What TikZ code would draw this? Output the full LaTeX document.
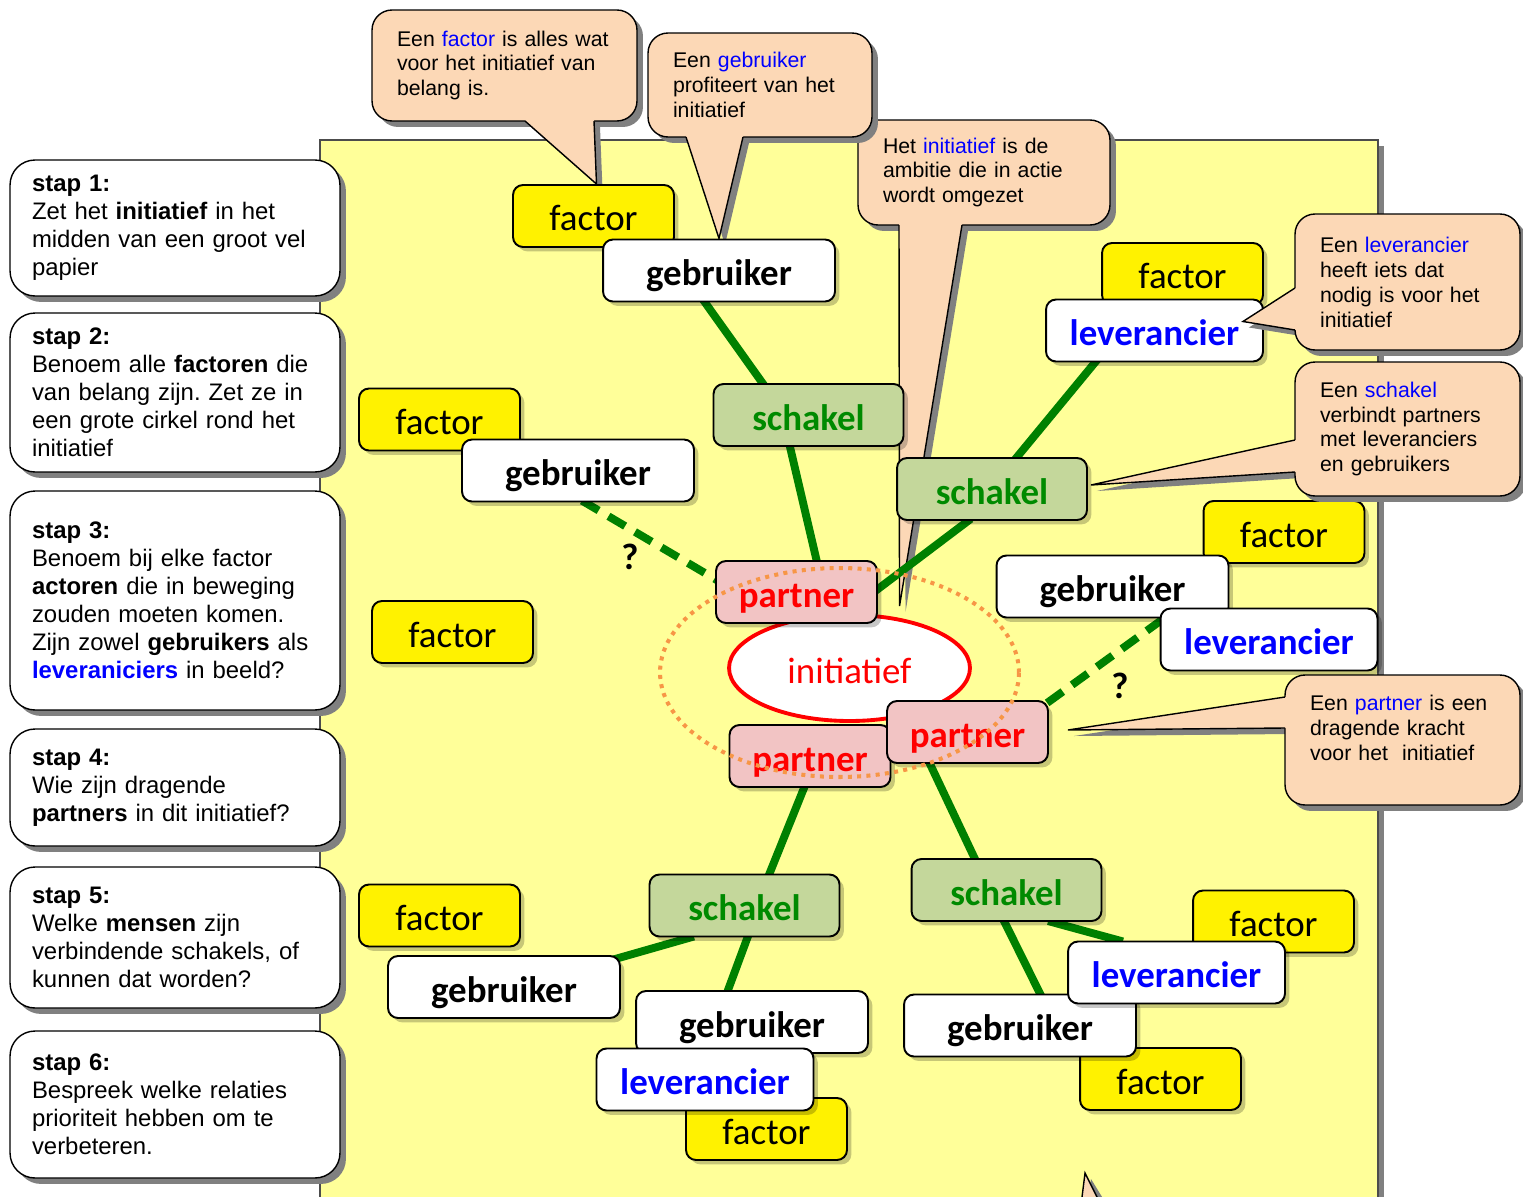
\documentclass[tikz,border=0pt]{standalone}
\usepackage{fontspec}
\setmainfont{Liberation Sans}
\newfontfamily\calib{Carlito}
\usetikzlibrary{calc,shapes.geometric,shadows}
\pgfdeclarelayer{back}
\pgfdeclarelayer{mid}
\pgfsetlayers{back,mid,main}
\definecolor{bgyellow}{HTML}{FFFF99}
\definecolor{peach}{HTML}{FCD8B6}
\definecolor{linkgreen}{HTML}{008000}
\definecolor{schfill}{HTML}{C4D79B}
\definecolor{schtext}{HTML}{008A00}
\definecolor{pfill}{HTML}{F2C4C4}
\definecolor{ringorange}{HTML}{F79646}
\definecolor{shadowgray}{HTML}{808080}
\frenchspacing
\newcommand{\tailshadow}[3]{\fill[shadowgray] ($(#1)+(6,6)$) -- ($(#3)+(6,6)$) -- ($(#2)+(6,6)$) -- cycle;}
\newcommand{\notetail}[4]{%
  \fill[peach] ($(#1)+#4$) -- (#1) -- (#3) -- (#2) -- ($(#2)+#4$) -- cycle;
  \draw[line width=0.8pt] (#1) -- (#3) -- (#2);}
\begin{document}
\begin{tikzpicture}[x=0.02cm,y=-0.02cm]
  \tikzset{ box/.style={draw,line width=1.1pt,rounded corners=0.2cm,minimum height=1.24cm,inner sep=0pt,
      text height=0.6cm,text depth=0pt,font=\calib\fontsize{21}{25}\selectfont,
      drop shadow={shadow xshift=2.5pt,shadow yshift=-2.5pt,fill=black,opacity=0.22}},
    fac/.style={box,fill=yellow,minimum width=3.22cm},
    geb/.style={box,fill=white,minimum width=4.64cm,font=\calib\bfseries\fontsize{21}{25}\selectfont},
    lev/.style={geb,minimum width=4.34cm,text=blue},
    sch/.style={geb,fill=schfill,minimum width=3.8cm,text=schtext},
    prt/.style={geb,fill=pfill,minimum width=3.22cm,text=red},
    link/.style={linkgreen,line width=4.5pt,shorten <=-2pt,shorten >=-2pt},
    maybe/.style={link,dash pattern=on 11pt off 6.5pt},
    qmark/.style={font=\calib\bfseries\fontsize{21}{25}\selectfont},
    note/.style={draw,line width=0.8pt,fill=peach,rounded corners=0.4cm,inner xsep=0.5cm,align=left,
      font=\fontsize{12.1}{14.2}\selectfont,
      drop shadow={shadow xshift=3.4pt,shadow yshift=-3.4pt,fill=shadowgray,opacity=1}},
    stapbox/.style={draw,line width=0.8pt,fill=white,rounded corners=0.5cm,inner xsep=0.44cm,
      text width=5.72cm,align=left,font=\fontsize{13.6}{15.9}\selectfont,
      drop shadow={shadow xshift=3.4pt,shadow yshift=-3.4pt,fill=shadowgray,opacity=1}},
  }
  \useasboundingbox (0,0) rectangle (1523,1196);

  \begin{pgfonlayer}{back}
    \fill[shadowgray] (326,146) rectangle (1384,1215);
    \draw[fill=bgyellow,draw=gray!60!black,line width=0.6pt] (320,140) rectangle (1378,1215);
  \end{pgfonlayer}

  \node[fac] (fT) at (593.5,216) {factor};
  \node[fac] (fL) at (439.5,419.5) {factor};
  \node[fac] (fM) at (452.5,632) {factor};
  \node[fac] (fR1) at (1182.5,274) {factor};
  \node[fac] (fR2) at (1284,532) {factor};
  \node[fac] (fBL1) at (439.5,915.5) {factor};
  \node[fac] (fBL2) at (766.5,1129) {factor};
  \node[fac] (fBR1) at (1273.5,921.5) {factor};
  \node[fac] (fBR2) at (1160.5,1079) {factor};

  \node[geb] (gT) at (719,270.5) {gebruiker};
  \node[geb] (gL) at (578,470.5) {gebruiker};
  \node[geb] (gR2) at (1112.5,586.5) {gebruiker};
  \node[geb] (gBL1) at (504,987) {gebruiker};
  \node[geb] (gBL2) at (752,1022) {gebruiker};
  \node[geb] (gBR) at (1020,1025.5) {gebruiker};

  \node[lev] (lR1) at (1154.5,330.5) {leverancier};
  \node[lev] (lR2) at (1269,639.5) {leverancier};
  \node[lev] (lBL) at (705,1079.5) {leverancier};
  \node[lev] (lBR) at (1176.5,972.5) {leverancier};

  \node[sch] (sT) at (808.5,415) {schakel};
  \node[sch] (sR) at (992,489) {schakel};
  \node[sch] (sBL) at (744.5,905.5) {schakel};
  \node[sch] (sBR) at (1006.5,890) {schakel};

  \node[ellipse,draw=red,line width=2.2pt,fill=white,minimum width=4.82cm,minimum height=2.12cm,inner sep=0pt,
    text height=0.6cm,text depth=0pt,text=red,font=\calib\fontsize{21}{25}\selectfont] (init) at (849.5,668) {initiatief};

  \node[prt] (pT) at (796.5,592) {partner};
  \node[prt] (pBL) at (810,756) {partner};
  \node[prt] (pBR) at (967.5,732) {partner};

  \node[ellipse,draw=ringorange,line width=2.3pt,dash pattern=on 2.3pt off 3pt,minimum width=7.18cm,
    minimum height=4.18cm] (ring) at (839.5,672.5) {};

  \node[qmark] (q1) at (630,557) {?};
  \node[qmark] (q2) at (1120,686) {?};

  \begin{pgfonlayer}{mid}
    \coordinate (n3a) at (899,225);
    \coordinate (n3b) at (962,225);
    \coordinate (n3t) at ($(init.north)+(50,-7)$);
    \tailshadow{n3a}{n3b}{n3t}
    \node[note,text width=4.04cm,minimum height=2.1cm] (n3) at (984,172.5)
      {Het {\color{blue}initiatief} is de\\ambitie die in actie\\wordt omgezet};
    \notetail{n3a}{n3b}{n3t}{(0,-6)}

    \coordinate (n1a) at (525,121);
    \coordinate (n1b) at (594,121);
    \coordinate (n1t) at ($(fT.north)+(3,0)$);
    \tailshadow{n1a}{n1b}{n1t}
    \node[note,text width=4.3cm,minimum height=2.22cm] (n1) at (504.5,65.5)
      {Een {\color{blue}factor} is alles wat\\voor het initiatief van\\belang is.};
    \notetail{n1a}{n1b}{n1t}{(0,-6)}

    \coordinate (n2a) at (686,137);
    \coordinate (n2b) at (743,137);
    \coordinate (n2t) at (gT.north);
    \tailshadow{n2a}{n2b}{n2t}
    \node[note,text width=3.48cm,minimum height=2.08cm] (n2) at (760,85)
      {Een {\color{blue}gebruiker}\\profiteert van het\\initiatief};
    \notetail{n2a}{n2b}{n2t}{(0,-6)}

    \draw[link] ($(gT.south)+(-14,0)$) -- ($(sT.north)+(-46,0)$);
    \draw[link] ($(sT.south)+(-18.5,0)$) -- ($(pT.north)+(20,0)$);
    \draw[link] ($(pT.east)+(0,-3)$) -- ($(sR.south)+(-24,0)$);
    \draw[link] ($(sR.north)+(25,0)$) -- ($(lR1.south)+(-59.5,0)$);
    \draw[maybe] ($(gL.south)+(7,0)$) -- ($(pT.west)+(0,-13)$);
    \draw[maybe] ($(lR2.west)+(0,-18)$) -- ($(pBR.north east)+(-2,3)$);
    \draw[link] ($(pBL.south)+(-6,0)$) -- ($(sBL.north)+(25,0)$);
    \draw[link] ($(sBL.south)+(-54,0)$) -- ($(gBL1.north east)+(-6,4)$);
    \draw[link] ($(sBL.south)+(3,0)$) -- ($(gBL2.north)+(-24,0)$);
    \draw[link] ($(pBR.south)+(-37.5,0)$) -- ($(sBR.north)+(-32,0)$);
    \draw[link] ($(sBR.south)+(-2,0)$) -- ($(gBR.north)+(20,0)$);
    \draw[link] ($(sBR.south)+(45,0)$) -- ($(lBR.north)+(-57,0)$);
  \end{pgfonlayer}

  \coordinate (n4a) at (1295,288);
  \coordinate (n4b) at (1295,330);
  \coordinate (n4t) at ($(lR1.east)+(-21,-9)$);
  \tailshadow{n4a}{n4b}{n4t}
  \node[note,text width=3.5cm,minimum height=2.72cm] (n4) at (1407.5,282)
    {Een {\color{blue}leverancier}\\heeft iets dat\\nodig is voor het\\initiatief};
  \notetail{n4a}{n4b}{n4t}{(6,0)}

  \coordinate (n5a) at (1295,440);
  \coordinate (n5b) at (1295,472);
  \coordinate (n5t) at ($(sR.east)+(3,-4)$);
  \tailshadow{n5a}{n5b}{n5t}
  \node[note,text width=3.5cm,minimum height=2.68cm] (n5) at (1407.5,429)
    {Een {\color{blue}schakel}\\verbindt partners\\met leveranciers\\en gebruikers};
  \notetail{n5a}{n5b}{n5t}{(6,0)}

  \coordinate (n6a) at (1285,697);
  \coordinate (n6b) at (1285,728);
  \coordinate (n6t) at ($(pBR.east)+(19,-2)$);
  \tailshadow{n6a}{n6b}{n6t}
  \node[note,text width=3.7cm,minimum height=2.6cm] (n6) at (1402.5,740)
    {Een {\color{blue}partner} is een\\dragende kracht\\voor het\ \ initiatief\\\mbox{}};
  \notetail{n6a}{n6b}{n6t}{(6,0)}

  \coordinate (n7t) at (1085,1173);
  \fill[shadowgray] (1091,1179) -- (1087,1205) -- (1107,1205) -- cycle;
  \filldraw[fill=peach,line width=0.8pt] (1081,1205) -- (n7t) -- (1101,1205);

  \node[stapbox,minimum height=2.72cm] (st1) at (175,228)
    {\textbf{stap 1:}\\Zet het \textbf{initiatief} in het\\midden van een groot vel\\papier};
  \node[stapbox,minimum height=3.18cm] (st2) at (175,392.5)
    {\textbf{stap 2:}\\Benoem alle \textbf{factoren} die\\van belang zijn. Zet ze in\\een grote cirkel rond het\\initiatief};
  \node[stapbox,minimum height=4.38cm] (st3) at (175,600.5)
    {\textbf{stap 3:}\\Benoem bij elke factor\\\textbf{actoren} die in beweging\\zouden moeten komen.\\Zijn zowel \textbf{gebruikers} als\\{\color{blue}\textbf{leveraniciers}} in beeld?};
  \node[stapbox,minimum height=2.34cm] (st4) at (175,787.5)
    {\textbf{stap 4:}\\Wie zijn dragende\\\textbf{partners} in dit initiatief?};
  \node[stapbox,minimum height=2.82cm] (st5) at (175,937.5)
    {\textbf{stap 5:}\\Welke \textbf{mensen} zijn\\verbindende schakels, of\\kunnen dat worden?};
  \node[stapbox,minimum height=2.94cm] (st6) at (175,1104.5)
    {\textbf{stap 6:}\\Bespreek welke relaties\\prioriteit hebben om te\\verbeteren.};
\end{tikzpicture}
\end{document}
